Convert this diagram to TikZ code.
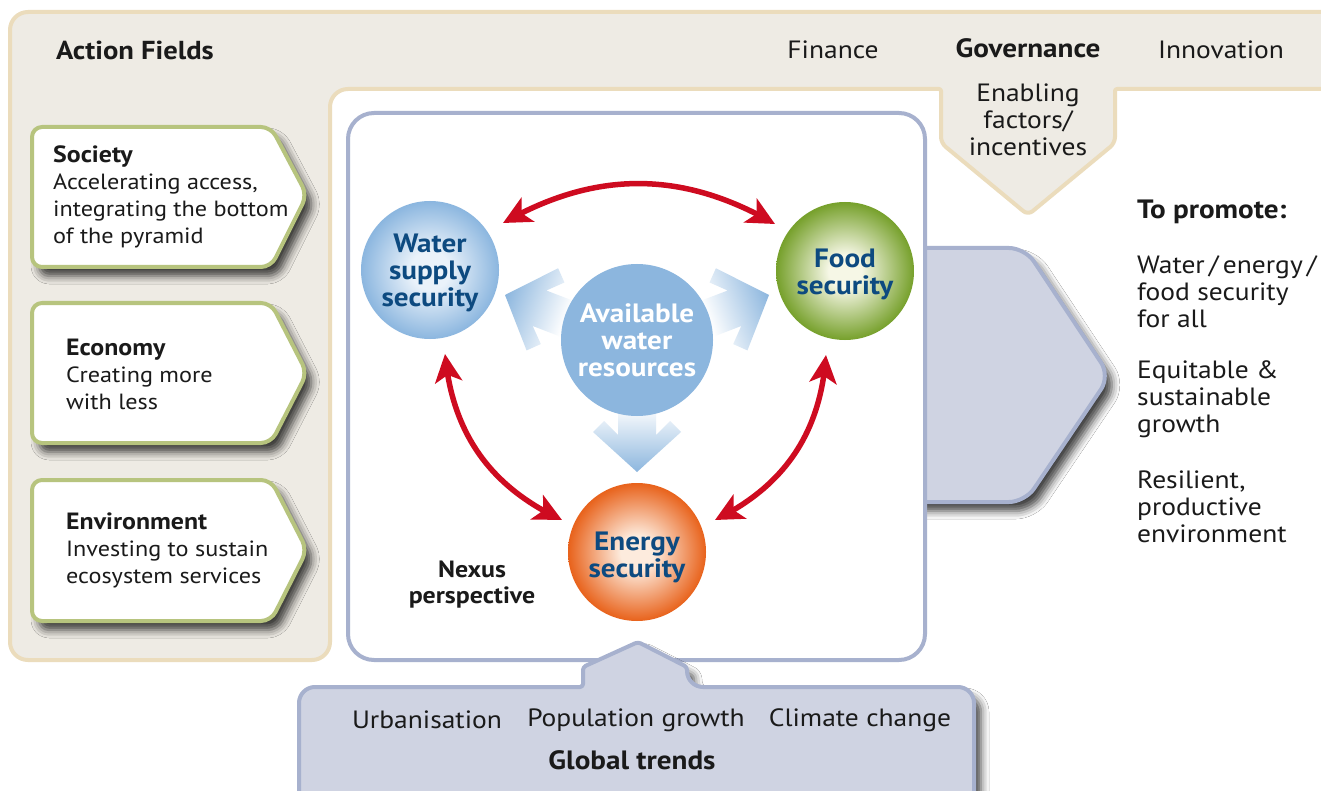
\documentclass[tikz,border=0pt]{standalone}
\usepackage{fontspec}
\setmainfont{PT Sans}[FakeStretch=1.1]
\usetikzlibrary{arrows.meta,shadows.blur,bending}
\definecolor{beige}{HTML}{EEEBE4}
\definecolor{tanb}{HTML}{EBDCBC}
\definecolor{olive}{HTML}{B7C47E}
\definecolor{nexb}{HTML}{A7B1CE}
\definecolor{grayblue}{HTML}{CFD3E2}
\definecolor{redarr}{HTML}{CE0B20}
\definecolor{dkblue}{HTML}{0D4A80}
\definecolor{lblue}{HTML}{8CB6DE}
\definecolor{wA}{HTML}{EAF2FA}
\definecolor{wB}{HTML}{8BB6DF}
\definecolor{fA}{HTML}{F6F7E6}
\definecolor{fB}{HTML}{76A02B}
\definecolor{eA}{HTML}{FDEBDD}
\definecolor{eB}{HTML}{E8621B}
\definecolor{txt}{HTML}{1A1A1A}
\pgfdeclareradialshading{watershade}{\pgfpointorigin}{color(0bp)=(wA); color(7bp)=(wA); color(25bp)=(wB); color(50bp)=(wB)}
\pgfdeclareradialshading{foodshade}{\pgfpointorigin}{color(0bp)=(fA); color(6bp)=(fA); color(25bp)=(fB); color(50bp)=(fB)}
\pgfdeclareradialshading{energyshade}{\pgfpointorigin}{color(0bp)=(eA); color(6bp)=(eA); color(25bp)=(eB); color(50bp)=(eB)}
\newcommand{\bodyf}{\fontsize{22}{27}\selectfont}
\newcommand{\bigf}{\fontsize{25}{27}\selectfont}
\newcommand{\circf}{\fontsize{26.5}{27}\selectfont\bfseries}
\newcommand{\myBlueArrow}[3]{%
  \begin{scope}[transform canvas={shift={(#1,#2)},rotate=#3}]
    \shade[top color=white, bottom color=lblue] (0,0) -- (-44,-40) -- (-33,-51) -- (-19,-37) -- (-19,-66) -- (19,-66) -- (19,-37) -- (33,-51) -- (44,-40) -- cycle;
  \end{scope}}
\tikzset{
  body/.style={font=\bodyf, align=left, inner sep=0pt, text=txt},
  bigt/.style={font=\bigf, align=left, inner sep=0pt, text=txt},
  ctext/.style={font=\bigf, align=center, inner sep=0pt, text=txt},
  shad/.style={blur shadow={shadow xshift=7pt, shadow yshift=-9pt, shadow blur radius=8pt, shadow opacity=75}},
  fieldbox/.style={draw=olive, fill=white, line width=4pt, rounded corners=10pt, line join=round, shad},
  bluebox/.style={draw=nexb, fill=grayblue, line width=4pt, line join=round},
  nexus/.style={circle, minimum size=138pt, inner sep=0pt},
  nexustext/.style={font=\circf, text=dkblue, align=center, inner sep=0pt},
  redarrow/.style={draw=redarr, line width=5.5pt,
     {Stealth[length=28pt,width=27pt,inset=7pt]}-{Stealth[length=28pt,width=27pt,inset=7pt]}}
}
\begin{document}
\begin{tikzpicture}[x=1pt,y=-1pt]
\useasboundingbox (0,0) rectangle (1321,791);
\fill[white] (0,0) rectangle (1321,791);
% outer beige panel
\draw[fill=beige, draw=tanb, line width=4pt, line join=round]
  (10,300) [rounded corners=18pt] -- (10,12) -- (1350,12) -- (1350,89)
  [rounded corners=2pt] -- (1115,89) [rounded corners=6pt] -- (1115,143) -- (1028,215) -- (941,143)
  [rounded corners=2pt] -- (941,89) [rounded corners=18pt] -- (330,89) -- (330,660) -- (10,660) -- cycle;
% titles
\node[bigt, anchor=west, font=\fontsize{26}{27}\selectfont\bfseries] (af) at (56,50) {Action Fields};
\node[ctext] (fin) at (833,50) {Finance};
\node[ctext, font=\fontsize{26.5}{27}\selectfont\bfseries] (gov) at (1028,48) {Governance};
\node[ctext] (inn) at (1221,50) {Innovation};
\node[ctext] (enab) at (1028,120) {Enabling\\factors/\\incentives};
% field boxes
\path[fieldbox] (32,127) -- (271,127) -- (307,195) -- (271,267) -- (32,267) -- cycle;
\path[fieldbox] (32,303) -- (271,303) -- (307,373) -- (271,443) -- (32,443) -- cycle;
\path[fieldbox] (32,480) -- (271,480) -- (307,550) -- (271,621) -- (32,621) -- cycle;
\node[body, anchor=west] (soc) at (53,196.5) {{\fontsize{23.5}{27}\selectfont\bfseries Society}\\Accelerating access,\\integrating the bottom\\of the pyramid};
\node[body, anchor=west] (eco) at (66,374) {{\fontsize{23.5}{27}\selectfont\bfseries Economy}\\Creating more\\with less};
\node[body, anchor=west] (env) at (66,550) {{\fontsize{23.5}{27}\selectfont\bfseries Environment}\\Investing to sustain\\ecosystem services};
% big arrow to the right
\draw[bluebox, rounded corners=16pt, shad]
  (920,248) -- (1025,248) -- (1110,376) -- (1025,502) -- (920,502);
% nexus box
\draw[draw=nexb, fill=white, line width=4pt, rounded corners=26pt] (348,113) rectangle (925,660);
% global trends
\draw[bluebox, shad]
  (299,820) [rounded corners=16pt] -- (299,687) [rounded corners=3pt] -- (583,687) -- (583,667) -- (638,642) -- (687,667)
  [rounded corners=16pt] -- (687,687) -- (974,687) -- (974,820);
\node[ctext] (urb) at (427,720) {Urbanisation};
\node[ctext] (pop) at (636,720) {Population growth};
\node[ctext] (cli) at (860,720) {Climate change};
\node[ctext, font=\fontsize{26.5}{27}\selectfont\bfseries] (gt) at (632,760) {Global trends};
% blue arrows
\myBlueArrow{637}{472}{0}
\myBlueArrow{505}{295}{-111}
\myBlueArrow{769}{295}{111}
% circles
\node[circle, fill=lblue, minimum size=152pt, inner sep=0pt, font=\circf, text=white, align=center] (avail) at (637,340) {Available\\water\\resources};
\node[nexus, shading=watershade] (water) at (430,270) {};
\node[nexus, shading=foodshade] (food) at (845,271) {};
\node[nexus, shading=energyshade] (energy) at (637,552) {};
\node[nexustext] (watert) at (430,273) {Water\\supply\\security};
\node[nexustext] (foodt) at (845,274.5) {Food\\security};
\node[nexustext] (energyt) at (637,557) {Energy\\security};
\node[ctext, font=\fontsize{23.5}{26}\selectfont\bfseries] (nexp) at (472,585) {Nexus\\perspective};
% red arrows
\coordinate (wt) at (503,223);
\coordinate (ft) at (775,224);
\coordinate (wb) at (445,354);
\coordinate (el) at (562,520);
\coordinate (fb) at (826,355);
\coordinate (er) at (715,520);
\draw[redarrow] (wt) to[bend left=30] (ft);
\draw[redarrow] (wb) to[bend right=30] (el);
\draw[redarrow] (fb) to[bend left=30] (er);
% promote text
\node[bigt, anchor=west, font=\fontsize{26.5}{27}\selectfont\bfseries] (tp) at (1137,212) {To promote:};
\node[bigt, anchor=west] (p1) at (1137,292) {Water\,/\,energy\,/\\food security\\for all};
\node[bigt, anchor=west] (p2) at (1137,399) {Equitable \&\\sustainable\\growth};
\node[bigt, anchor=west] (p3) at (1137,507) {Resilient,\\productive\\environment};
\end{tikzpicture}
\end{document}
